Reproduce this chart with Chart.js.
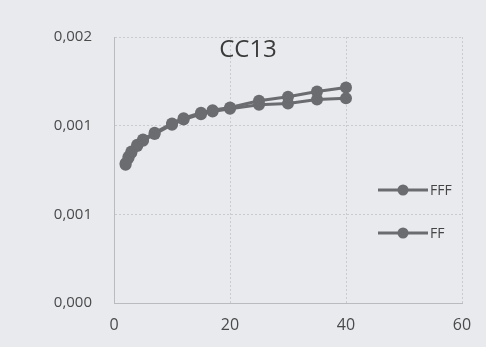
<!DOCTYPE html>
<html>
<head>
<meta charset="utf-8">
<script src="https://cdn.jsdelivr.net/npm/chart.js@4/dist/chart.umd.min.js"></script>
<style>
  html, body { margin: 0; padding: 0; background: #e8eaee; }
  #wrap { width: 486px; height: 347px; position: relative; }
</style>
</head>
<body>
<div id="wrap"><canvas id="chart" width="486" height="347"></canvas></div>
<script>
// valeurs
const titre = "CC13"
const xVals = [2, 2.5, 3, 4, 5, 7, 10, 12, 15, 17, 20, 25, 30, 35, 40]
const fffVals = [0.00105, 0.00110, 0.00114, 0.00119, 0.00123, 0.00128, 0.00135, 0.00139, 0.00143, 0.00145, 0.00147, 0.00152, 0.00155, 0.00159, 0.00162]
const ffVals = [0.00104, 0.00109, 0.00113, 0.00118, 0.00122, 0.00127, 0.00134, 0.00138, 0.00142, 0.00144, 0.00146, 0.00149, 0.00150, 0.00153, 0.00154]
const xTicks = [0, 20, 40, 60]
const yTicks = [0, 0.002 / 3, 0.004 / 3, 0.002]

const gris = "#6a6c70"
const police = "'Open Sans', 'Noto Sans', sans-serif"

function points(vals) {
  return xVals.map((x, i) => ({ x: x, y: vals[i] }))
}

// titre + legende dessines dans la zone du graphique (comme Excel)
const surcouche = {
  id: 'surcouche',
  afterDraw(chart) {
    const ctx = chart.ctx
    ctx.save()
    ctx.fillStyle = "#3a3a3a"
    ctx.font = "24px " + police
    ctx.textAlign = "center"
    ctx.textBaseline = "middle"
    ctx.fillText(titre, 248, 50)

    ctx.font = "14px " + police
    ctx.textAlign = "left"
    const ys = [190, 233]
    chart.data.datasets.forEach((ds, i) => {
      const y = ys[i]
      ctx.strokeStyle = gris
      ctx.lineWidth = 3
      ctx.beginPath()
      ctx.moveTo(378, y)
      ctx.lineTo(428, y)
      ctx.stroke()
      ctx.fillStyle = gris
      ctx.beginPath()
      ctx.arc(403, y, 5.5, 0, Math.PI * 2)
      ctx.fill()
      ctx.fillStyle = "#444"
      ctx.fillText(ds.label, 430, y + 1)
    })
    ctx.restore()
  }
}

new Chart(document.getElementById('chart'), {
  type: 'line',
  data: {
    datasets: [{
      label: 'FFF',
      data: points(fffVals),
      borderColor: gris,
      backgroundColor: gris,
      borderWidth: 3,
      pointRadius: 6,
      pointBackgroundColor: gris,
      pointBorderWidth: 0
    }, {
      label: 'FF',
      data: points(ffVals),
      borderColor: gris,
      backgroundColor: gris,
      borderWidth: 3,
      pointRadius: 6,
      pointBackgroundColor: gris,
      pointBorderWidth: 0
    }]
  },
  options: {
    responsive: false,
    animation: false,
    layout: { padding: { top: 37, right: 24, left: 0, bottom: 0 } },
    plugins: {
      legend: { display: false },
      tooltip: { enabled: false }
    },
    scales: {
      x: {
        type: 'linear',
        min: 0,
        max: 60,
        afterBuildTicks: s => { s.ticks = xTicks.map(v => ({ value: v })) },
        ticks: {
          color: "#4a4a4a",
          font: { size: 16, family: police },
          padding: 13
        },
        grid: { color: "#c9cbcf", drawTicks: false },
        border: { color: "#b9bbbf", dash: [2, 2] },
        afterFit: s => { s.height = 347 - 303 }
      },
      y: {
        min: 0,
        max: 0.002,
        afterBuildTicks: s => { s.ticks = yTicks.map(v => ({ value: v })) },
        ticks: {
          color: "#4a4a4a",
          font: { size: 15, family: police },
          padding: 22,
          callback: v => v.toFixed(3).replace('.', ',')
        },
        grid: { color: "#c9cbcf", drawTicks: false },
        border: { color: "#b9bbbf", dash: [2, 2] },
        afterFit: s => { s.width = 114 }
      }
    }
  },
  plugins: [surcouche]
})
</script>
</body>
</html>
